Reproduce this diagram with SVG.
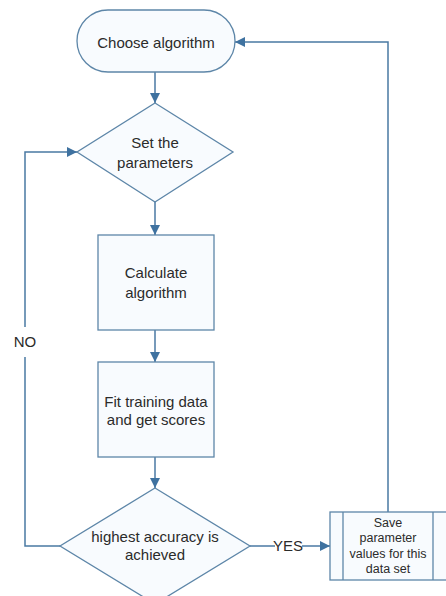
<svg xmlns="http://www.w3.org/2000/svg" width="446" height="596" viewBox="0 0 446 596">
<style>
.shape{fill:#f8fbfe;stroke:#5d86a8;stroke-width:1.3}
.conn{fill:none;stroke:#4a79a3;stroke-width:1.5}
text{font-family:"Liberation Sans",Arial,sans-serif;fill:#2b2b2b;text-anchor:middle}
.t{font-size:15px}
.s{font-size:12.5px}
</style>
<defs>
<marker id="ah" viewBox="0 0 10 10" refX="10" refY="5" markerWidth="10" markerHeight="10" markerUnits="userSpaceOnUse" orient="auto">
<path d="M0,0 L10,5 L0,10 z" fill="#3f72a0"/>
</marker>
</defs>
<rect width="446" height="596" fill="#ffffff"/>
<g id="connectors">
<path class="conn" d="M155,72 V103" marker-end="url(#ah)"/>
<path class="conn" d="M155,202 V235" marker-end="url(#ah)"/>
<path class="conn" d="M155,330 V362" marker-end="url(#ah)"/>
<path class="conn" d="M155,457 V488" marker-end="url(#ah)"/>
<path class="conn" d="M60,546 H25 V357"/>
<path class="conn" d="M25,327 V152 H77" marker-end="url(#ah)"/>
<path class="conn" d="M250,546 H275"/>
<path class="conn" d="M302,546 H330" marker-end="url(#ah)"/>
<path class="conn" d="M388,512 V42 H235" marker-end="url(#ah)"/>
<text class="t" x="25" y="347">NO</text>
<text class="t" x="288" y="551">YES</text>
</g>
<g id="start">
<rect class="shape" x="77" y="10" width="158" height="62" rx="31" ry="31"/>
<text class="t" x="156" y="48">Choose algorithm</text>
</g>
<g id="set-params">
<polygon class="shape" points="155,103 233,152 155,202 77,152"/>
<text class="t" x="155" y="148">Set the</text>
<text class="t" x="155" y="168">parameters</text>
</g>
<g id="calculate">
<rect class="shape" x="98" y="235" width="116" height="95"/>
<text class="t" x="156" y="278">Calculate</text>
<text class="t" x="156" y="298">algorithm</text>
</g>
<g id="fit">
<rect class="shape" x="98" y="362" width="116" height="95"/>
<text class="t" x="156" y="407">Fit training data</text>
<text class="t" x="156" y="425">and get scores</text>
</g>
<g id="accuracy">
<polygon class="shape" points="155,488 250,546 155,604 60,546"/>
<text class="t" x="155" y="542">highest accuracy is</text>
<text class="t" x="155" y="560">achieved</text>
</g>
<g id="save">
<rect class="shape" x="330" y="512" width="130" height="68"/>
<line class="shape" x1="343" y1="512" x2="343" y2="580"/>
<line class="shape" x1="433" y1="512" x2="433" y2="580"/>
<text class="s" x="388" y="527">Save</text>
<text class="s" x="388" y="542">parameter</text>
<text class="s" x="388" y="558">values for this</text>
<text class="s" x="388" y="573">data set</text>
</g>
</svg>
